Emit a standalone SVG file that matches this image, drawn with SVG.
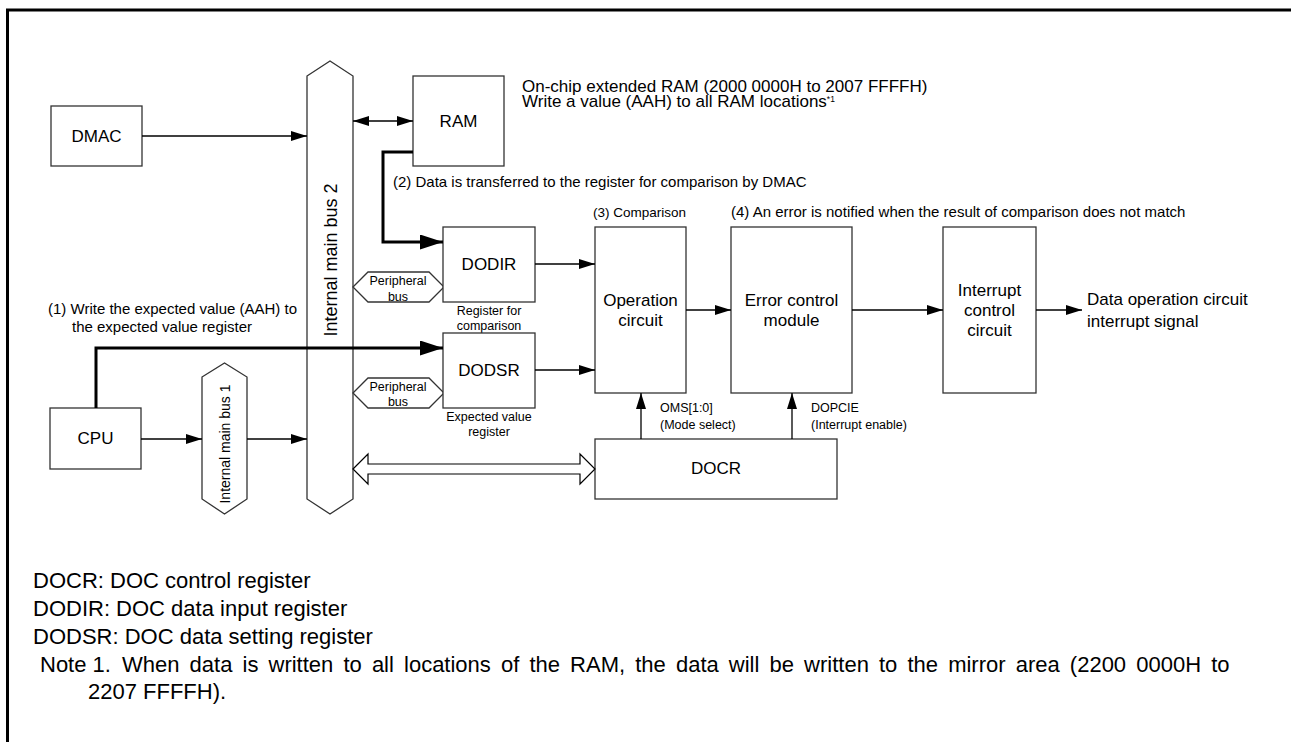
<svg xmlns="http://www.w3.org/2000/svg" width="1291" height="742" viewBox="0 0 1291 742">
<style>
text{font-family:"Liberation Sans",Arial,sans-serif;fill:#000}
.box{fill:#fff;stroke:#333;stroke-width:1.3}
.bus{fill:#fff;stroke:#333;stroke-width:1.3}
.lbl{font-size:17px;text-anchor:middle}
.ann{font-size:15px}
.sm{font-size:12.5px}
.smc{font-size:12.5px;text-anchor:middle}
.ft{font-size:22px}
.ln{fill:none;stroke:#000;stroke-width:1.3}
.thk{fill:none;stroke:#000;stroke-width:3}
</style>
<defs>
<marker id="ah" markerUnits="userSpaceOnUse" markerWidth="16" markerHeight="10" refX="16" refY="5" orient="auto-start-reverse"><path d="M0,0 L16,5 L0,10 z" fill="#000"/></marker>
<marker id="ahb" markerUnits="userSpaceOnUse" markerWidth="23" markerHeight="15" refX="23" refY="7.5" orient="auto"><path d="M0,0 L23,7.5 L0,15 z" fill="#000"/></marker>
</defs>
<g id="frame"><path d="M7.5,742 V10 H1291" fill="none" stroke="#000" stroke-width="3"/></g>

<g id="bus2"><polygon class="bus" points="307,76 330,61 353,76 353,499 330,514 307,499"/><text font-size="18" text-anchor="middle" transform="translate(336.5,260) rotate(-90)">Internal main bus 2</text></g>
<g id="bus1"><polygon class="bus" points="202,377 224.5,363 247,377 247,499 224.5,514 202,499"/><text font-size="14" text-anchor="middle" transform="translate(229.5,444) rotate(-90)">Internal main bus 1</text></g>
<g id="dmac"><rect class="box" x="51" y="106" width="91" height="60"/><text class="lbl" x="96.5" y="142">DMAC</text></g>
<g id="ram"><rect class="box" x="413" y="76" width="91" height="90"/><text class="lbl" x="458.5" y="127">RAM</text></g>
<g id="cpu"><rect class="box" x="50" y="408" width="91" height="61"/><text class="lbl" x="95.5" y="444">CPU</text></g>
<g id="pbus1"><polygon class="bus" points="353,287 368,272 429,272 444,287 429,302 368,302"/><text class="smc" x="398" y="284.5">Peripheral</text><text class="smc" x="398" y="300.5">bus</text></g>
<g id="pbus2"><polygon class="bus" points="353,393 368,378 429,378 444,393 429,408 368,408"/><text class="smc" x="398" y="390.5">Peripheral</text><text class="smc" x="398" y="405.5">bus</text></g>
<g id="dodir"><rect class="box" x="443" y="227" width="92" height="75"/><text class="lbl" x="489" y="270">DODIR</text><text class="smc" x="489" y="314.5">Register for</text><text class="smc" x="489" y="329.5">comparison</text></g>
<g id="dodsr"><rect class="box" x="443" y="333" width="92" height="75"/><text class="lbl" x="489" y="376">DODSR</text><text class="smc" x="489" y="420.5">Expected value</text><text class="smc" x="489" y="435.5">register</text></g>
<g id="op"><rect class="box" x="595" y="227" width="91" height="166"/><text class="lbl" x="640.5" y="306">Operation</text><text class="lbl" x="640.5" y="326">circuit</text></g>
<g id="err"><rect class="box" x="731" y="227" width="121" height="166"/><text class="lbl" x="791.5" y="306">Error control</text><text class="lbl" x="791.5" y="326">module</text></g>
<g id="intc"><rect class="box" x="943" y="227" width="93" height="166"/><text class="lbl" x="989.5" y="296">Interrupt</text><text class="lbl" x="989.5" y="316">control</text><text class="lbl" x="989.5" y="336">circuit</text></g>
<g id="docr"><rect class="box" x="595" y="439" width="242" height="60"/><text class="lbl" x="716" y="474">DOCR</text></g>

<g id="connectors">
<line class="ln" x1="142" y1="136" x2="307" y2="136" marker-end="url(#ah)"/>
<line class="ln" x1="353" y1="121" x2="413" y2="121" marker-start="url(#ah)" marker-end="url(#ah)"/>
<path class="thk" d="M413,152 H383 V242 H443" marker-end="url(#ahb)"/>
<path class="thk" d="M96,408 V348 H443" marker-end="url(#ahb)"/>
<line class="ln" x1="141" y1="439" x2="202" y2="439" marker-end="url(#ah)"/>
<line class="ln" x1="247" y1="439" x2="307" y2="439" marker-end="url(#ah)"/>
<line class="ln" x1="535" y1="264" x2="595" y2="264" marker-end="url(#ah)"/>
<line class="ln" x1="535" y1="370" x2="595" y2="370" marker-end="url(#ah)"/>
<line class="ln" x1="686" y1="310" x2="731" y2="310" marker-end="url(#ah)"/>
<line class="ln" x1="852" y1="310" x2="943" y2="310" marker-end="url(#ah)"/>
<line class="ln" x1="1036" y1="310" x2="1082" y2="310" marker-end="url(#ah)"/>
<line class="ln" x1="641" y1="439" x2="641" y2="393" marker-end="url(#ah)"/>
<line class="ln" x1="792" y1="439" x2="792" y2="393" marker-end="url(#ah)"/>
<polygon points="353,469 368,454 368,464 580,464 580,454 595,469 580,484 580,474 368,474 368,484" fill="#fff" stroke="#000" stroke-width="1.2"/>
</g>

<g id="labels">
<text font-size="17" x="522" y="92">On-chip extended RAM (2000 0000H to 2007 FFFFH)</text>
<text font-size="17" x="522" y="107">Write a value (AAH) to all RAM locations<tspan font-size="8.5" dy="-5">*1</tspan></text>
<text class="ann" x="393" y="187">(2) Data is transferred to the register for comparison by DMAC</text>
<text font-size="13.5" x="593" y="217">(3) Comparison</text>
<text class="ann" x="731" y="217">(4) An error is notified when the result of comparison does not match</text>
<text class="ann" x="48" y="314">(1) Write the expected value (AAH) to</text>
<text class="ann" x="72" y="332">the expected value register</text>
<text font-size="17" x="1087" y="305">Data operation circuit</text>
<text font-size="17" x="1087" y="327">interrupt signal</text>
<text class="sm" x="660" y="411.5">OMS[1:0]</text>
<text class="sm" x="660" y="428.5">(Mode select)</text>
<text class="sm" x="811" y="411.5">DOPCIE</text>
<text class="sm" x="811" y="428.5">(Interrupt enable)</text>
<text class="ft" x="33" y="588">DOCR: DOC control register</text>
<text class="ft" x="33" y="616">DODIR: DOC data input register</text>
<text class="ft" x="33" y="644">DODSR: DOC data setting register</text>
<text class="ft" x="40" y="672">Note 1.</text>
<text class="ft" x="122" y="672" word-spacing="4">When data is written to all locations of the RAM, the data will be written to the mirror area (2200 0000H to</text>
<text class="ft" x="88" y="699">2207 FFFFH).</text>
</g>
</svg>
